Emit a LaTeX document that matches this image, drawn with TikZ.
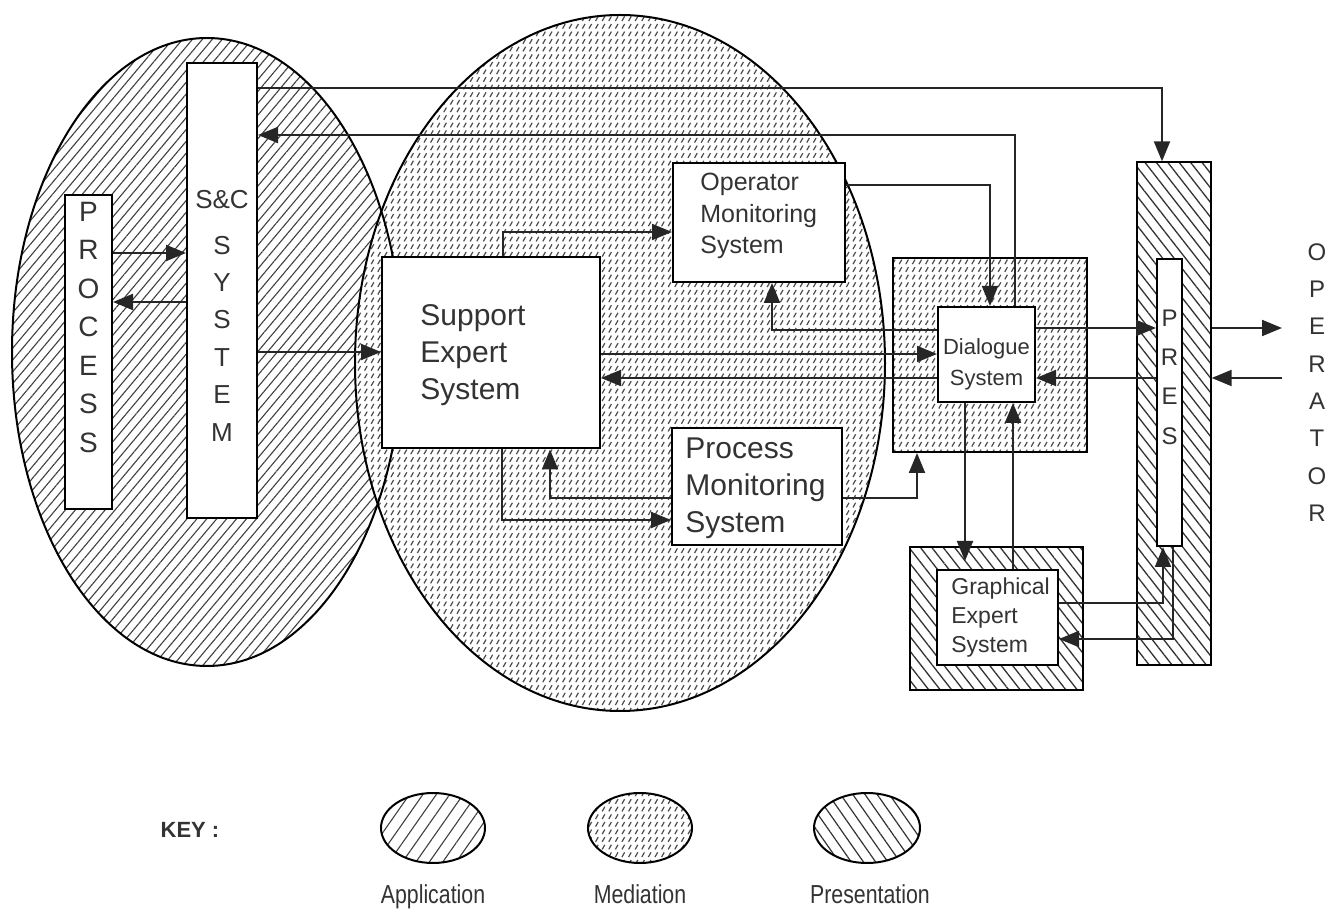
\documentclass[tikz,border=0pt]{standalone}
\usepackage{fontspec}
\setmainfont{Liberation Sans}
\newfontfamily\keyfont[FakeStretch=0.82]{Liberation Sans}
\usetikzlibrary{arrows.meta,patterns.meta,calc}

\tikzdeclarepattern{
  name=mediation,
  type=uncolored,
  bottom left={(-0.1pt,-0.1pt)},
  top right={(3.4pt,3.9pt)},
  tile size={(3.3pt,3.8pt)},
  code={\draw[line width=0.6pt] (0.8pt,0.6pt) -- (2.1pt,2.9pt);}
}

\tikzset{
  edge/.style={draw=black,line width=1pt},
  applpat/.style={pattern={Lines[angle=50,distance=3.8pt,line width=0.55pt]},pattern color=black!75},
  medpat/.style={preaction={fill=white},pattern=mediation,pattern color=black!70},
  prespat/.style={pattern={Lines[angle=-52,distance=4.5pt,line width=0.65pt]},pattern color=black!80},
  sysbox/.style={draw=black,line width=1pt,fill=white,inner sep=0pt},
  medbox/.style={draw=black,line width=1pt,inner sep=0pt,medpat},
  presbox/.style={draw=black,line width=1pt,inner sep=0pt,preaction={fill=white},prespat},
  stack/.style={align=center,inner sep=0pt,text=black!80},
  txt/.style={align=left,inner sep=0pt,anchor=west,text=black!80},
  keylbl/.style={inner sep=0pt,anchor=base,text=black!80,font=\keyfont\fontsize{13}{15}\selectfont},
  arr/.style={-{Triangle[length=10pt,width=8pt]},line width=1pt,draw=black!85}
}

\begin{document}
\begin{tikzpicture}[x=0.5pt,y=-0.5pt]
  \useasboundingbox (0,0) rectangle (1335,919);
  \fill[white] (0,0) rectangle (1335,919);

  % application and mediation regions
  \fill[white] (207,352) ellipse [x radius=195,y radius=314];
  \path[applpat] (207,352) ellipse [x radius=195,y radius=314];
  \path[medpat] (620,363) ellipse [x radius=265,y radius=348];
  \draw[edge] (207,352) ellipse [x radius=195,y radius=314];
  \draw[edge] (620,363) ellipse [x radius=265,y radius=348];

  % system boxes on a pixel grid
  \node (proc) [sysbox,minimum width=23.5pt,minimum height=157pt] at (88.5,352) {};
  \node (snc) [sysbox,minimum width=35pt,minimum height=227.5pt] at (222,290.5) {};
  \node (ses) [sysbox,minimum width=109pt,minimum height=95.5pt] at (491,353) {};
  \node (oms) [sysbox,minimum width=86pt,minimum height=59.5pt] at (759,222.5) {};
  \node (pms) [sysbox,minimum width=85pt,minimum height=58.5pt] at (757,486.5) {};
  \node (dlgout) [medbox,minimum width=97pt,minimum height=97pt] at (990,355) {};
  \node (dlgin) [sysbox,minimum width=48.5pt,minimum height=47.5pt] at (986.5,354.5) {};
  \node (presout) [presbox,minimum width=37pt,minimum height=251.5pt] at (1174,413.5) {};
  \node (presin) [sysbox,minimum width=12.5pt,minimum height=143.5pt] at (1169.5,402.5) {};
  \node (gesout) [presbox,minimum width=86.5pt,minimum height=71.5pt] at (996.5,618.5) {};
  \node (gesin) [sysbox,minimum width=60.5pt,minimum height=47.5pt] at (997.5,617.5) {};

  \coordinate (oprin) at (1282,328);
  \coordinate (oprout) at (1282,378);

  % labels
  \node (proctext) [stack,font=\fontsize{14}{19.25}\selectfont] at (88.5,327.5) {P\\R\\O\\C\\E\\S\\S};
  \node (snclabel) [stack,font=\fontsize{13}{15}\selectfont] at (222,200) {S\&C};
  \node (snctext) [stack,font=\fontsize{13}{18.7}\selectfont] at (222,338.5) {S\\Y\\S\\T\\E\\M};
  \node (sestext) [txt,font=\fontsize{15}{18.5}\selectfont] at (420,355) {Support\\Expert\\System};
  \node (omstext) [txt,font=\fontsize{12.5}{15.75}\selectfont] at (700,216) {Operator\\Monitoring\\System};
  \node (pmstext) [txt,font=\fontsize{15}{18.5}\selectfont] at (685,488) {Process\\Monitoring\\System};
  \node (dlgtext) [stack,font=\fontsize{11}{15.5}\selectfont] at (986.5,364) {Dialogue\\System};
  \node (gestext) [txt,font=\fontsize{11.5}{14.5}\selectfont] at (951,618) {Graphical\\Expert\\System};
  \node (prestext) [stack,font=\fontsize{12}{19.7}\selectfont] at (1169.5,377) {P\\R\\E\\S};
  \node (oprtext) [stack,font=\fontsize{12}{18.65}\selectfont] at (1317,382.5) {O\\P\\E\\R\\A\\T\\O\\R};

  % connectors
  \draw[arr] (proc.east |- 0,253) -- (snc.west |- 0,253);
  \draw[arr] (snc.west |- 0,302) -- (proc.east |- 0,302);
  \draw[arr] (snc.east |- 0,352) -- (ses.west |- 0,352);
  \draw[arr] (snc.east |- 0,88) -| (presout.north -| 1162,0);
  \draw[arr] (dlgin.north -| 1015,0) |- (snc.east |- 0,135);
  \draw[arr] (oms.east |- 0,185) -| (dlgin.north -| 990,0);
  \draw[arr] (ses.north -| 503,0) |- (oms.west |- 0,232);
  \draw[arr] (dlgin.west |- 0,330) -| (oms.south -| 772,0);
  \draw[arr] (ses.east |- 0,354) -- (dlgin.west |- 0,354);
  \draw[arr] (dlgin.west |- 0,378) -- (ses.east |- 0,378);
  \draw[arr] (ses.south -| 502,0) |- (pms.west |- 0,520);
  \draw[arr] (pms.west |- 0,498) -| (ses.south -| 550,0);
  \draw[arr] (pms.east |- 0,498) -| (dlgout.south -| 917,0);
  \draw[arr,shorten >=4pt] (dlgin.south -| 965,0) -- (gesin.north -| 965,0);
  \draw[arr] (gesin.north -| 1013,0) -- (dlgin.south -| 1013,0);
  \draw[arr] (dlgin.east |- 0,328) -- (presin.west |- 0,328);
  \draw[arr] (presin.west |- 0,378) -- (dlgin.east |- 0,378);
  \draw[arr] (gesin.east |- 0,603) -| (presin.south -| 1163,0);
  \draw[arr] (presin.south -| 1173,0) |- (gesin.east |- 0,639);
  \draw[arr] (presout.east |- 0,328) -- (oprin);
  \draw[arr] (oprout) -- (presout.east |- 0,378);

  % key
  \node (keytext) [inner sep=0pt,text=black!80,font=\fontsize{11}{13}\selectfont\bfseries] at (190,830) {KEY :};
  \fill[white] (433,828) ellipse [x radius=52,y radius=35];
  \path[pattern={Lines[angle=55,distance=5.5pt,line width=0.55pt]},pattern color=black!75] (433,828) ellipse [x radius=52,y radius=35];
  \draw[edge] (433,828) ellipse [x radius=52,y radius=35];
  \path[medpat] (640,828) ellipse [x radius=52,y radius=35];
  \draw[edge] (640,828) ellipse [x radius=52,y radius=35];
  \fill[white] (867,828) ellipse [x radius=53,y radius=35];
  \path[pattern={Lines[angle=-55,distance=5pt,line width=0.6pt]},pattern color=black!80] (867,828) ellipse [x radius=53,y radius=35];
  \draw[edge] (867,828) ellipse [x radius=53,y radius=35];
  \node (keyappl) [keylbl] at (433,903) {Application};
  \node (keymed) [keylbl] at (640,903) {Mediation};
  \node (keypres) [keylbl] at (870,903) {Presentation};
\end{tikzpicture}
\end{document}
